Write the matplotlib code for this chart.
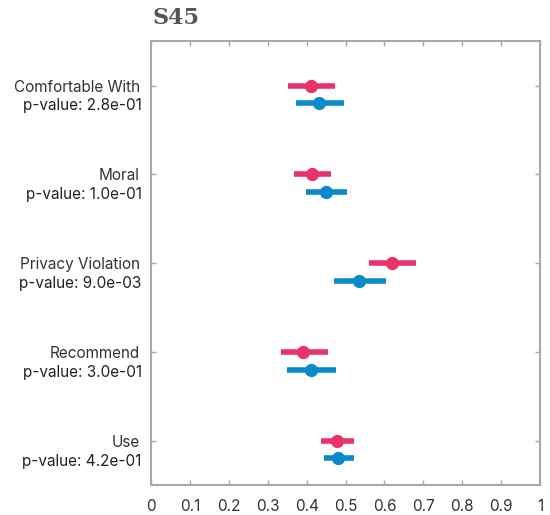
import numpy as np
import matplotlib
matplotlib.use("Agg")
import matplotlib.pyplot as plt
import matplotlib.transforms as mtransforms

plt.rcParams['font.family'] = ['Inter', 'DejaVu Sans']

# data
labels = ["Comfortable With", "Moral", "Privacy Violation", "Recommend", "Use"]
pvalues = ["2.8e-01", "1.0e-01", "9.0e-03", "3.0e-01", "4.2e-01"]

red_mean = [0.411, 0.414, 0.620, 0.391, 0.478]
red_lo = [0.352, 0.368, 0.560, 0.334, 0.437]
red_hi = [0.473, 0.463, 0.681, 0.455, 0.522]

blue_mean = [0.432, 0.450, 0.535, 0.411, 0.481]
blue_lo = [0.373, 0.398, 0.470, 0.350, 0.445]
blue_hi = [0.496, 0.504, 0.604, 0.476, 0.522]

xticks = [0, 0.1, 0.2, 0.3, 0.4, 0.5, 0.6, 0.7, 0.8, 0.9, 1]
xticklabels = ["0", "0.1", "0.2", "0.3", "0.4", "0.5", "0.6", "0.7", "0.8", "0.9", "1"]

RED = "#e8336a"
BLUE = "#0a8ac8"
GRAY = "#a8a8a8"
TXT = "#333333"

fig = plt.figure(figsize=(5.5, 5.15), dpi=100)
ax = fig.add_axes([0.2745, 0.0583, 0.7075, 0.8617])

y = np.arange(len(labels))
off = 0.2

ax.hlines(y, red_lo, red_hi, color=RED, lw=4, zorder=2)
ax.plot(red_mean, y, 'o', color=RED, ms=8.5, zorder=3)
ax.hlines(y + off, blue_lo, blue_hi, color=BLUE, lw=4, zorder=2)
ax.plot(blue_mean, y + off, 'o', color=BLUE, ms=8.5, zorder=3)

ax.set_xlim(0, 1)
ax.set_ylim(4.5, -0.5)
ax.set_xticks(xticks)
ax.set_xticklabels(xticklabels, fontsize=11, color=TXT)
ax.set_yticks(y)
ax.set_yticklabels(labels, fontsize=11, color=TXT)

ax.tick_params(direction='in', top=True, right=True, color=GRAY, length=3.5, width=1)
ax.tick_params(axis='y', pad=8)
ax.tick_params(axis='x', pad=10)
for s in ax.spines.values():
    s.set_color(GRAY)
    s.set_linewidth(1.5)

trans = mtransforms.blended_transform_factory(ax.transAxes, ax.transData)
for i, p in enumerate(pvalues):
    ax.text(-0.024, i + 0.23, "p-value: " + p, transform=trans, ha='right', va='center',
            fontsize=11, color="#222222")

fig.text(0.277, 0.965, "S45", fontsize=16, fontweight='bold', family='DejaVu Serif',
         color="#555555", ha='left', va='center')

fig.savefig("out.png", dpi=100, facecolor='white')
